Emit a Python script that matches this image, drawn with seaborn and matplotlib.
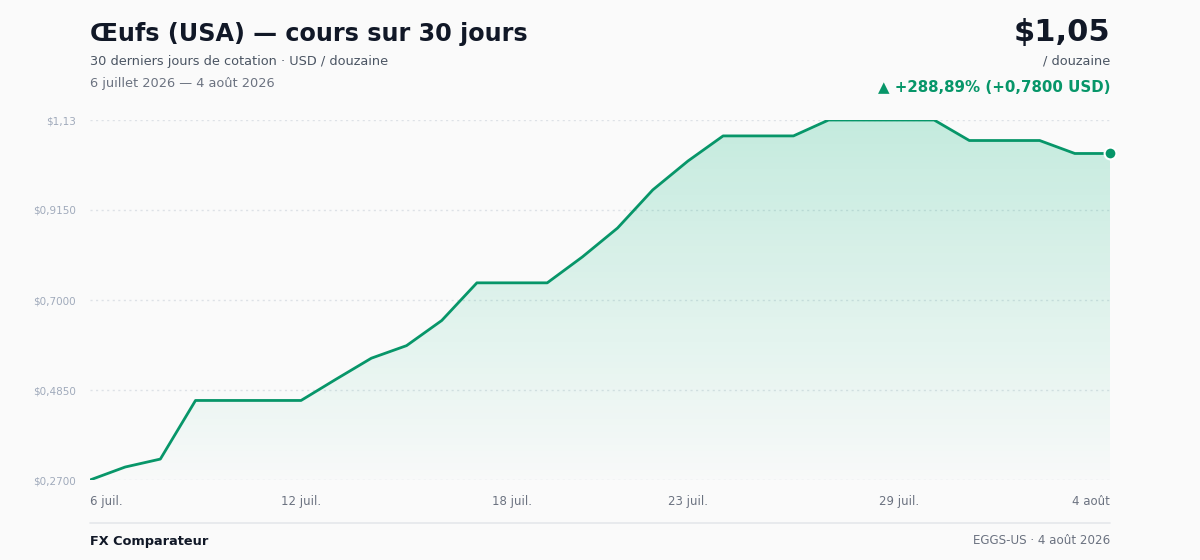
import numpy as np
import pandas as pd
import seaborn as sns
import matplotlib.pyplot as plt
from matplotlib.colors import LinearSegmentedColormap
from matplotlib.patches import Polygon

# donnees (USD / douzaine)
prix = [0.270, 0.301, 0.320, 0.460, 0.460, 0.460, 0.460, 0.511, 0.561, 0.591,
        0.651, 0.741, 0.741, 0.741, 0.803, 0.872, 0.963, 1.032, 1.092, 1.092,
        1.092, 1.130, 1.130, 1.130, 1.130, 1.081, 1.081, 1.081, 1.050, 1.050]
jours = list(range(len(prix)))
ticks_x = [0, 6, 12, 17, 23, 29]
labels_x = ['6 juil.', '12 juil.', '18 juil.', '23 juil.', '29 juil.', '4 août']
ticks_y = [0.27, 0.485, 0.70, 0.915, 1.13]
labels_y = ['$0,2700', '$0,4850', '$0,7000', '$0,9150', '$1,13']

vert = '#079669'
vert_clair = (0.063, 0.725, 0.506)
fond = '#fafafa'

sns.set_theme(style='white')
plt.rcParams['font.family'] = ['DejaVu Sans']

df = pd.DataFrame({'jour': jours, 'prix': prix})

fig = plt.figure(figsize=(12, 5.6), dpi=100, facecolor=fond)
ax = fig.add_axes([90 / 1200, 80 / 560, 1020 / 1200, 360 / 560])
ax.set_facecolor(fond)

ymin, ymax = 0.27, 1.13
ax.set_xlim(0, len(prix) - 1)
ax.set_ylim(ymin, ymax)

# remplissage en degrade sous la courbe
grad = np.linspace(0.0, 1.0, 256).reshape(-1, 1)
cmap = LinearSegmentedColormap.from_list('g', [vert_clair + (0.01,), vert_clair + (0.23,)])
img = ax.imshow(grad, extent=[0, len(prix) - 1, ymin, ymax], origin='lower',
                aspect='auto', cmap=cmap, zorder=1)
poly = Polygon(list(zip(jours, prix)) + [(jours[-1], ymin), (0, ymin)],
               closed=True, facecolor='none', edgecolor='none')
ax.add_patch(poly)
img.set_clip_path(poly)

for t in ticks_y:
    ax.axhline(t, color='#dde1e6', lw=1.0, ls=(0, (1.5, 2.5)), zorder=0.5)

sns.lineplot(data=df, x='jour', y='prix', color=vert, lw=2.0, ax=ax, zorder=3)
ax.plot(jours[-1], prix[-1], 'o', ms=8.5, color=vert, mec='white', mew=1.5,
        clip_on=False, zorder=4)

for s in ax.spines.values():
    s.set_visible(False)
ax.set_xlabel('')
ax.set_ylabel('')
ax.set_yticks(ticks_y)
ax.set_yticklabels(labels_y, fontsize=7.5, color='#a0aabb')
ax.set_xticks(ticks_x)
ax.set_xticklabels(labels_x, fontsize=8.5, color='#6b7280')
ax.tick_params(axis='both', length=0)
ax.tick_params(axis='y', pad=10)
ax.tick_params(axis='x', pad=11)
tl = ax.get_xticklabels()
tl[0].set_ha('left')
tl[-1].set_ha('right')

# textes d'en-tete
fig.text(90 / 1200, 1 - 34 / 560, 'Œufs (USA) — cours sur 30 jours', fontsize=17.2,
         fontweight='bold', color='#111827', va='center', ha='left')
fig.text(90 / 1200, 1 - 61 / 560, '30 derniers jours de cotation · USD / douzaine',
         fontsize=9.25, color='#4b5563', va='center', ha='left')
fig.text(90 / 1200, 1 - 83 / 560, '6 juillet 2026 — 4 août 2026',
         fontsize=9.25, color='#6b7280', va='center', ha='left')

fig.text(1110 / 1200, 1 - 33 / 560, '$1,05', fontsize=22, fontweight='bold',
         color='#111827', va='center', ha='right')
fig.text(1110 / 1200, 1 - 61 / 560, '/ douzaine', fontsize=9.25,
         color='#4b5563', va='center', ha='right')
fig.text(1110 / 1200, 1 - 87 / 560, '▲ +288,89% (+0,7800 USD)', fontsize=10.8,
         fontweight='bold', color=vert, va='center', ha='right')

# pied de page
fig.add_artist(plt.Line2D([90 / 1200, 1110 / 1200], [1 - 523 / 560, 1 - 523 / 560],
                          color='#e5e7eb', lw=1.2))
fig.text(90 / 1200, 1 - 541 / 560, 'FX Comparateur', fontsize=9.3,
         fontweight='bold', color='#111827', va='center', ha='left')
fig.text(1110 / 1200, 1 - 541 / 560, 'EGGS-US · 4 août 2026', fontsize=8.6,
         color='#6b7280', va='center', ha='right')

fig.savefig('out.png', dpi=100, facecolor=fond)
